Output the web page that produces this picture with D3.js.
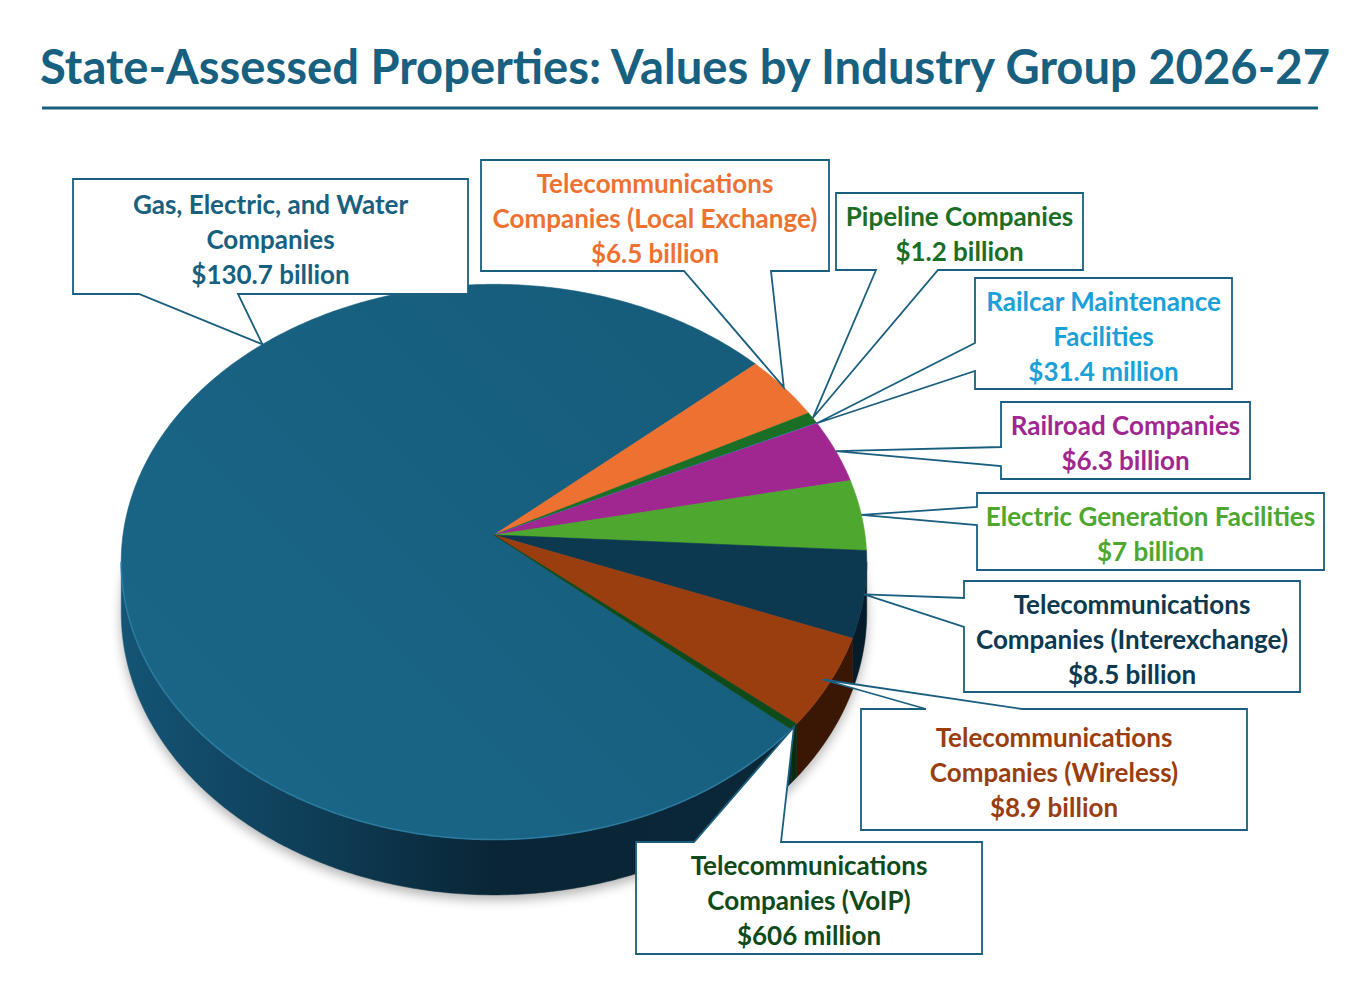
<!DOCTYPE html>
<html>
<head>
<meta charset="utf-8">
<script src="https://cdn.jsdelivr.net/npm/d3@7"></script>
<style>
  body { margin: 0; background: #fff; }
  svg { display: block; }
</style>
</head>
<body>
<svg id="chart" width="1370" height="997"></svg>
<script>
// ---- data (values in billions of dollars) ----
const categories = [
  "Gas, Electric, and Water|Companies",
  "Telecommunications|Companies (Local Exchange)",
  "Pipeline Companies",
  "Railcar Maintenance|Facilities",
  "Railroad Companies",
  "Electric Generation Facilities",
  "Telecommunications|Companies (Interexchange)",
  "Telecommunications|Companies (Wireless)",
  "Telecommunications|Companies (VoIP)"
];
const values = [130.7, 6.5, 1.2, 0.0314, 6.3, 7, 8.5, 8.9, 0.606];
const valueLabels = [
  "$130.7 billion", "$6.5 billion", "$1.2 billion", "$31.4 million", "$6.3 billion",
  "$7 billion", "$8.5 billion", "$8.9 billion", "$606 million"
];
const title = "State-Assessed Properties: Values by Industry Group 2026-27";

// ---- styles / layout ----
const colors     = ["#17607f", "#ed7232", "#1b6e25", "#1ba1d8", "#a0278f", "#4ea72f", "#0c394f", "#9a3e10", "#0e4a1a"];
const sideColors = [null,      "#9c4519", "#0f4518", "#106a8e", "#661a5c", "#33701d", "#061c28", "#3a1705", "#072c0f"];
const textColors = ["#17607f", "#ed7232", "#1b6e25", "#1ba0d8", "#a0278f", "#4ea72f", "#0c394f", "#9a3e10", "#0f4a1a"];

// callout boxes (box + the two points where the pointer leaves the box edge)
const callouts = [
  { x: 73,   y: 179, w: 395, h: 115, side: "bottom", a: 139, b: 238, tipAngle: 318 },
  { x: 481,  y: 160, w: 348, h: 111, side: "bottom", a: 684, b: 771 },
  { x: 836,  y: 193, w: 247, h: 77,  side: "bottom", a: 876, b: 938 },
  { x: 975,  y: 278, w: 257, h: 111, side: "left",   a: 343, b: 371 },
  { x: 1001, y: 402, w: 249, h: 77,  side: "left",   a: 447, b: 466 },
  { x: 977,  y: 493, w: 347, h: 77,  side: "left",   a: 507, b: 525 },
  { x: 964,  y: 581, w: 336, h: 111, side: "left",   a: 598, b: 627 },
  { x: 861,  y: 709, w: 386, h: 121, side: "top",    a: 926, b: 1022, tipR: 0.98 },
  { x: 636,  y: 842, w: 346, h: 112, side: "top",    a: 694, b: 781 }
];

const rad = d => d * Math.PI / 180;
const font = "Lato, 'Open Sans', sans-serif";

// perspective-ish projection of the tilted pie
const cx = 494, cy = 535, A = 371, B = 275, k = 0.097, H = 50;
function proj(theta, r = 1) {
  const c = Math.cos(theta) * r, s = Math.sin(theta) * r, d = 1 + k * c;
  return [cx + A * s / d, cy - B * c / d];
}
function projLow(theta) {
  const p = proj(theta);
  return [p[0], p[1] + H / (1 + k * Math.cos(theta))];
}
function arcPts(a0, a1, f) {
  const n = Math.max(2, Math.ceil(Math.abs(a1 - a0) / 0.01));
  return d3.range(n + 1).map(i => f(a0 + (a1 - a0) * i / n));
}

const svg = d3.select("#chart");
const defs = svg.append("defs");

defs.append("filter").attr("id", "blur")
  .attr("x", "-20%").attr("y", "-20%").attr("width", "140%").attr("height", "140%")
  .append("feGaussianBlur").attr("stdDeviation", 6);

const gSide = defs.append("linearGradient").attr("id", "gasSide")
  .attr("gradientUnits", "userSpaceOnUse")
  .attr("x1", 122).attr("x2", 800).attr("y1", 0).attr("y2", 0);
gSide.append("stop").attr("offset", 0).attr("stop-color", "#145474");
gSide.append("stop").attr("offset", 0.3).attr("stop-color", "#0e3c55");
gSide.append("stop").attr("offset", 0.55).attr("stop-color", "#0a2535");
gSide.append("stop").attr("offset", 1).attr("stop-color", "#0b2838");

const gTop = defs.append("linearGradient").attr("id", "gasTop")
  .attr("gradientUnits", "userSpaceOnUse")
  .attr("x1", 200).attr("y1", 800).attr("x2", 700).attr("y2", 300);
gTop.append("stop").attr("offset", 0).attr("stop-color", "#1a6688");
gTop.append("stop").attr("offset", 1).attr("stop-color", "#165c7b");

// ---- title ----
const titleText = svg.append("text")
  .attr("x", 685).attr("y", 66)
  .attr("text-anchor", "middle")
  .attr("dominant-baseline", "central")
  .style("font-family", font)
  .style("font-weight", 700)
  .style("font-size", "47px")
  .attr("fill", "#17607f")
  .text(title);
titleText.attr("textLength", 1290).attr("lengthAdjust", "spacingAndGlyphs");
svg.append("line")
  .attr("x1", 42).attr("x2", 1318).attr("y1", 108).attr("y2", 108)
  .attr("stroke", "#17607f").attr("stroke-width", 3);

// ---- pie ----
const start = rad(131.4);
const pie = d3.pie().sort(null).value(d => d).startAngle(start).endAngle(start + 2 * Math.PI);
const arcs = pie(values);
const line = d3.line();

// soft shadow under the pie
svg.append("path")
  .attr("d", line(arcPts(0, 2 * Math.PI, projLow)) + "Z")
  .attr("transform", "translate(0,5)")
  .attr("fill", "#000").attr("opacity", 0.3)
  .attr("filter", "url(#blur)");

// visible part of the outer wall
const vis0 = Math.acos(-k), vis1 = 2 * Math.PI - Math.acos(-k);
const sides = svg.append("g");
arcs.forEach((d, i) => {
  [0, 2 * Math.PI].forEach(off => {
    const a0 = Math.max(d.startAngle, vis0 + off), a1 = Math.min(d.endAngle, vis1 + off);
    if (a1 <= a0) return;
    const pts = arcPts(a0, a1, proj).concat(arcPts(a1, a0, projLow));
    sides.append("path")
      .attr("d", line(pts) + "Z")
      .attr("fill", i === 0 ? "url(#gasSide)" : sideColors[i])
      .attr("stroke", i === 0 ? "url(#gasSide)" : sideColors[i])
      .attr("stroke-width", 0.5);
  });
});

// top faces
svg.append("g").selectAll("path")
  .data(arcs)
  .join("path")
  .attr("d", d => line([[cx, cy]].concat(arcPts(d.startAngle, d.endAngle, proj))) + "Z")
  .attr("fill", (d, i) => i === 0 ? "url(#gasTop)" : colors[i])
  .attr("stroke", (d, i) => i === 0 ? "#17607f" : colors[i])
  .attr("stroke-width", 0.6)
  .attr("stroke-linejoin", "round");

// bevel highlight along the front rim
svg.append("path")
  .attr("d", line(arcPts(Math.max(start, vis0), vis1, proj)))
  .attr("fill", "none")
  .attr("stroke", "#2f82a8")
  .attr("stroke-width", 1.6)
  .attr("opacity", 0.8);

// ---- callouts ----
function calloutPath(c, tip) {
  const x0 = c.x, y0 = c.y, x1 = c.x + c.w, y1 = c.y + c.h;
  let pts;
  if (c.side === "top") pts = [[x0, y0], [c.a, y0], tip, [c.b, y0], [x1, y0], [x1, y1], [x0, y1]];
  else if (c.side === "bottom") pts = [[x0, y0], [x1, y0], [x1, y1], [c.b, y1], tip, [c.a, y1], [x0, y1]];
  else pts = [[x0, y0], [x1, y0], [x1, y1], [x0, y1], [x0, c.b], tip, [x0, c.a]];
  return "M" + pts.join("L") + "Z";
}

const labels = svg.append("g");
arcs.forEach((d, i) => {
  const c = callouts[i];
  const ang = c.tipAngle != null ? rad(c.tipAngle) : (d.startAngle + d.endAngle) / 2;
  const tip = proj(ang, c.tipR || 1);
  labels.append("path")
    .attr("d", calloutPath(c, tip))
    .attr("fill", "#fff")
    .attr("stroke", "#1a5f7f")
    .attr("stroke-width", 1.8)
    .attr("stroke-linejoin", "miter");

  const lines = categories[i].split("|").concat(valueLabels[i]);
  const mid = c.y + c.h / 2 + 2;
  labels.append("g").selectAll("text")
    .data(lines)
    .join("text")
    .attr("x", c.x + c.w / 2)
    .attr("y", (t, j) => mid + (j - (lines.length - 1) / 2) * 35)
    .attr("text-anchor", "middle")
    .attr("dominant-baseline", "central")
    .style("font-family", font)
    .style("font-weight", 700)
    .style("font-size", "26px")
    .attr("fill", textColors[i])
    .text(t => t);
});
</script>
</body>
</html>
